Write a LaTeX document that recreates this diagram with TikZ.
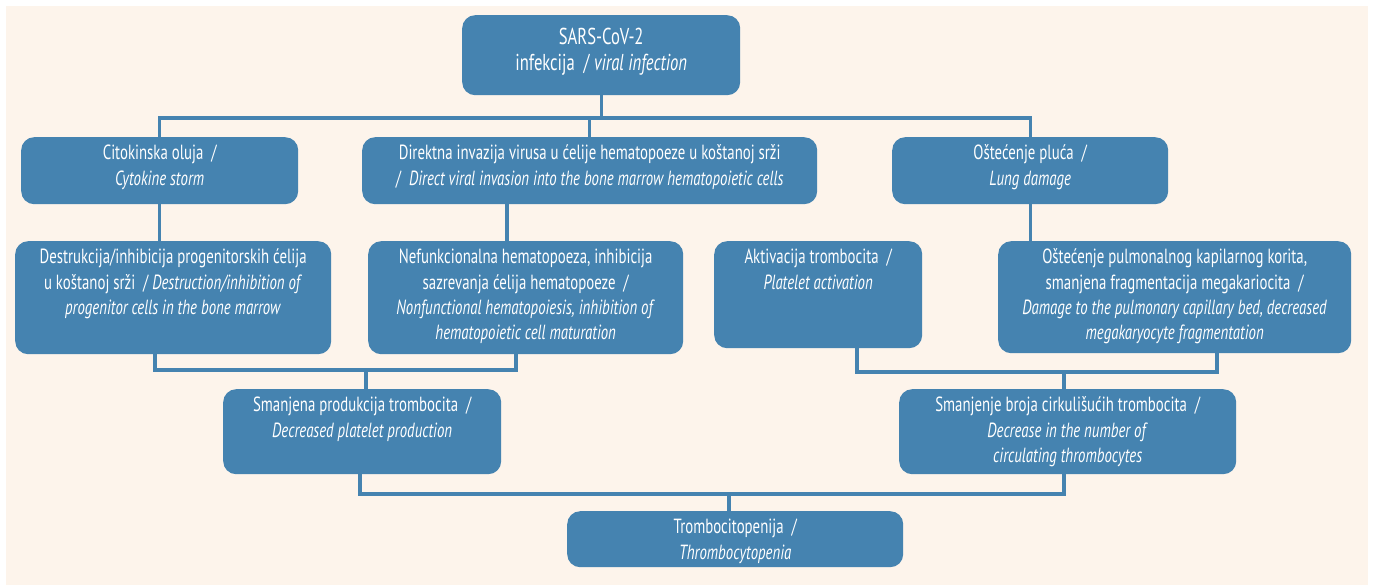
\documentclass[tikz,border=0pt]{standalone}
\usepackage{fontspec}
\setmainfont{PT Sans}[FakeStretch=0.723]
\usetikzlibrary{backgrounds}
\definecolor{boxblue}{RGB}{69,131,176}
\definecolor{bgcream}{RGB}{253,244,235}
\tikzset{
  boxst/.style={fill=boxblue, draw=none, rounded corners=13pt, inner sep=0pt, anchor=north west},
  txt/.style={text=white, align=center, inner sep=0pt, anchor=north, font={\fontsize{20.5}{25.3}\selectfont}},
  bigtxt/.style={txt, font={\fontsize{23}{26}\selectfont}},
  conn/.style={draw=boxblue, line width=3.2pt, line cap=rect}
}
\newcommand\mybox[8]{%
  \node[boxst, minimum width={(#4-#2)*1pt}, minimum height={(#5-#3)*1pt}] (#1) at (#2,#3) {};
  \node[#7] (#1t) at ([yshift=-#6pt]#1.north) {\rule{0pt}{15pt}#8};
}
\begin{document}
\begin{tikzpicture}[x=1pt,y=-1pt]
\useasboundingbox (0,0) rectangle (1373,586);
\coordinate (h1) at (0,118);
\coordinate (h2) at (0,370);
\coordinate (h3) at (0,372);
\coordinate (h4) at (0,494);
\coordinate (vdir) at (507,0);
\coordinate (vdes) at (155,0);
\coordinate (vnef) at (516,0);
\coordinate (vsp) at (366,0);
\coordinate (vakt) at (857,0);
\coordinate (vpul) at (1217,0);
\coordinate (vsb) at (1064,0);
\coordinate (vspb) at (360,0);
\coordinate (vtr) at (729,0);
% boxes
\mybox{sars}{462}{15}{740}{95}{13}{bigtxt}{SARS-CoV-2\\infekcija~~/ \textit{viral infection}}
\mybox{cit}{21}{137}{298}{204}{7.5}{txt}{Citokinska oluja~~/\\\textit{Cytokine storm}}
\mybox{dir}{362}{137}{817}{204}{7.5}{txt}{Direktna invazija virusa u ćelije hematopoeze u koštanoj srži\\/~~\textit{Direct viral invasion into the bone marrow hematopoietic cells}}
\mybox{pluc}{892}{137}{1168}{204}{7.5}{txt}{Oštećenje pluća~~/\\\textit{Lung damage}}
\mybox{des}{15}{241}{331}{354}{7.5}{txt}{Destrukcija/inhibicija progenitorskih ćelija\\u koštanoj srži~~/ \textit{Destruction/inhibition of}\\\textit{progenitor cells in the bone marrow}}
\mybox{nef}{368}{241}{683}{354}{7.5}{txt}{Nefunkcionalna hematopoeza, inhibicija\\sazrevanja ćelija hematopoeze~~/\\\textit{Nonfunctional hematopoiesis, inhibition of}\\\textit{hematopoietic cell maturation}}
\mybox{akt}{714}{241}{922}{348}{7.5}{txt}{Aktivacija trombocita~~/\\\textit{Platelet activation}}
\mybox{pul}{998}{241}{1351}{353}{7.5}{txt}{Oštećenje pulmonalnog kapilarnog korita,\\smanjena fragmentacija megakariocita~~/\\\textit{Damage to the pulmonary capillary bed, decreased}\\\textit{megakaryocyte fragmentation}}
\mybox{sp}{223}{389}{501}{474}{7.5}{txt}{Smanjena produkcija trombocita~~/\\\textit{Decreased platelet production}}
\mybox{sb}{899}{389}{1236}{474}{7.5}{txt}{Smanjenje broja cirkulišućih trombocita~~/\\\textit{Decrease in the number of}\\\textit{circulating thrombocytes}}
\mybox{tr}{567}{511}{903}{567}{7.5}{txt}{Trombocitopenija~~/\\\textit{Thrombocytopenia}}
\begin{scope}[on background layer]
\fill[white] (0,0) rectangle (1373,586);
\fill[bgcream] (6,6) rectangle (1368,585);
% level 1
\draw[conn] (sars.south) -- (sars.south |- h1);
\draw[conn] (cit.north) -- (cit.north |- h1) -- (pluc.north |- h1) -- (pluc.north);
\draw[conn] (dir.north) -- (dir.north |- h1);
% level 2
\draw[conn] (cit.south) -- (cit.south |- des.north);
\draw[conn] (vdir |- dir.south) -- (vdir |- nef.north);
\draw[conn] (pluc.south) -- (pluc.south |- pul.north);
% level 3
\draw[conn] (vdes |- des.south) -- (vdes |- h2) -- (vnef |- h2) -- (vnef |- nef.south);
\draw[conn] (vsp |- h2) -- (vsp |- sp.north);
\draw[conn] (vakt |- akt.south) -- (vakt |- h3) -- (vpul |- h3) -- (vpul |- pul.south);
\draw[conn] (vsb |- h3) -- (vsb |- sb.north);
% level 4
\draw[conn] (vspb |- sp.south) -- (vspb |- h4) -- (vsb |- h4) -- (vsb |- sb.south);
\draw[conn] (vtr |- h4) -- (vtr |- tr.north);
\end{scope}
\end{tikzpicture}
\end{document}
